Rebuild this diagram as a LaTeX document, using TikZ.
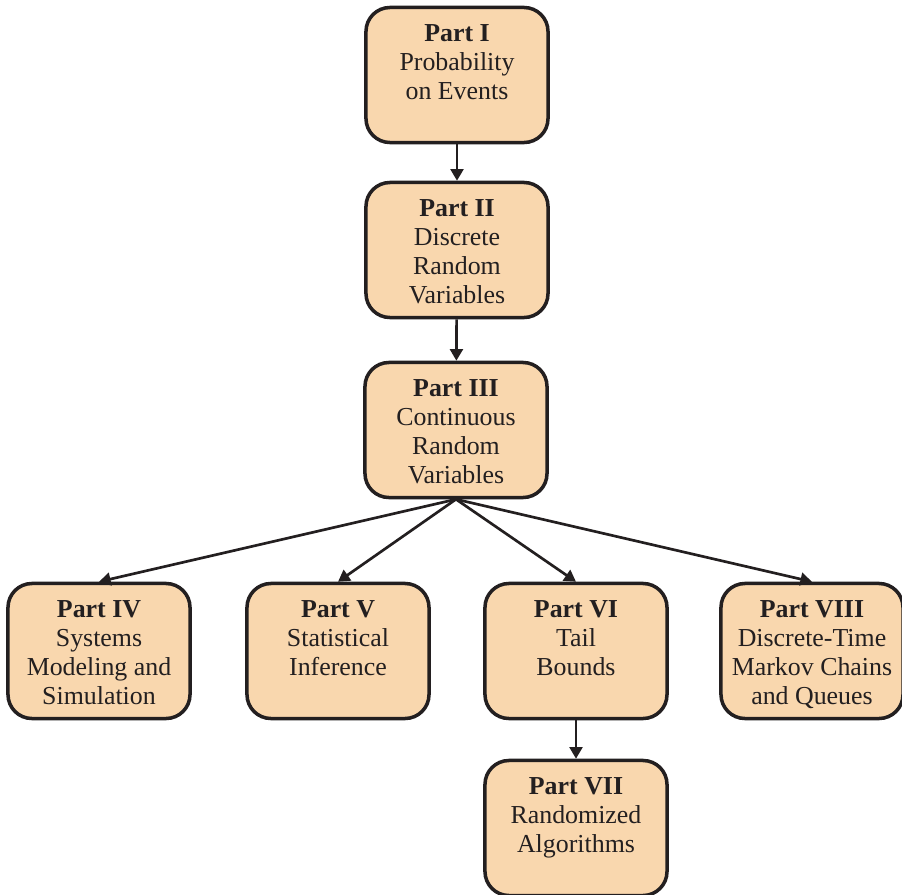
\documentclass[tikz,border=0pt]{standalone}
\usepackage{fontspec}
\setmainfont{Liberation Serif}
\usetikzlibrary{arrows.meta}
\definecolor{partfill}{HTML}{F9D7AE}
\definecolor{partline}{HTML}{231F20}
\newcommand{\parttext}[2]{\parbox[c][2.7cm][t]{4.35cm}{\centering\fontsize{18.4}{20.6}\selectfont\strut\textbf{#1}\\#2}}
\tikzset{
  partbox/.style={draw=partline, fill=partfill, line width=2.5pt, rounded corners=0.6cm,
    inner xsep=0.1cm, inner ysep=0.3375cm, text=partline},
  link/.style={->, draw=partline, line width=1.9pt}
}

\begin{document}
\begin{tikzpicture}[x=0.025cm, y=-0.025cm, >={Triangle[length=0.29cm,width=0.32cm]}]
  \useasboundingbox (0,0) rectangle (902,895);
  % top chain
  \node[partbox] (p1) at (457,75) {\parttext{Part I}{Probability\\on Events}};
  \node[partbox] (p2) at (457,250) {\parttext{Part II}{Discrete\\Random\\Variables}};
  \node[partbox] (p3) at (456,430) {\parttext{Part III}{Continuous\\Random\\Variables}};
  % bottom row
  \node[partbox] (p4) at (99,651) {\parttext{Part IV}{Systems\\Modeling and\\Simulation}};
  \node[partbox] (p5) at (338,651) {\parttext{Part V}{Statistical\\Inference}};
  \node[partbox] (p6) at (576,651) {\parttext{Part VI}{Tail\\Bounds}};
  \node[partbox] (p8) at (812,651) {\parttext{Part VIII}{Discrete-Time\\Markov Chains\\and Queues}};
  \node[partbox] (p7) at (576,828) {\parttext{Part VII}{Randomized\\Algorithms}};
  % arrows
  \draw[link] (p1) -- (p2);
  \draw[link] (p2) -- (p3);
  \foreach \t in {p4, p5, p6, p8} \draw[link] (p3.south) -- (\t.north);
  \draw[link] (p6) -- (p7);
\end{tikzpicture}
\end{document}
